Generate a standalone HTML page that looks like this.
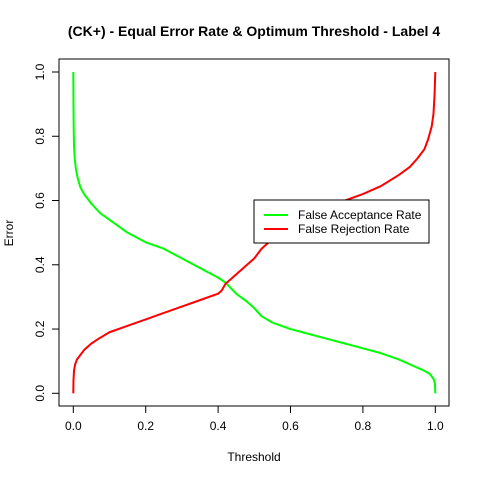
<!DOCTYPE html><html><head><meta charset="utf-8"><style>body{margin:0;background:#fff}svg{font-family:"Liberation Sans",sans-serif}</style></head><body>
<svg id="c" width="480" height="480">
<text x="254" y="36" font-size="14" font-weight="bold" text-anchor="middle">(CK+) - Equal Error Rate &amp; Optimum Threshold - Label 4</text>
<rect x="59" y="59" width="390" height="347" fill="none" stroke="#000"/>
<text x="254" y="461" font-size="12" text-anchor="middle">Threshold</text>
<text transform="translate(13,233) rotate(-90)" font-size="12" text-anchor="middle">Error</text>
<g id="ax"></g><g id="lines"></g>
<g>
<rect x="254" y="200" width="175" height="43" fill="#fff" stroke="#000"/>
<line x1="264" y1="215" x2="288" y2="215" stroke="#00ff00" stroke-width="2"/>
<text x="298" y="219" font-size="12">False Acceptance Rate</text>
<line x1="264" y1="229" x2="288" y2="229" stroke="#ff0000" stroke-width="2"/>
<text x="298" y="233" font-size="12">False Rejection Rate</text>
</g>
</svg>
<script>
const xTicks=[0,0.2,0.4,0.6,0.8,1.0];
const xTickLabels=["0.0","0.2","0.4","0.6","0.8","1.0"];
const yTicks=[0,0.2,0.4,0.6,0.8,1.0];
const yTickLabels=["0.0","0.2","0.4","0.6","0.8","1.0"];
const farX=[0,0.0005,0.001,0.002,0.004,0.007,0.012,0.02,0.03,0.05,0.075,0.1,0.15,0.2,0.25,0.3,0.35,0.4,0.42,0.45,0.48,0.5,0.52,0.55,0.6,0.65,0.7,0.75,0.8,0.85,0.9,0.94,0.97,0.985,0.995,0.999,1.0];
const farY=[1,0.9,0.83,0.77,0.73,0.7,0.67,0.64,0.62,0.59,0.56,0.54,0.5,0.47,0.45,0.42,0.39,0.36,0.345,0.31,0.285,0.265,0.24,0.22,0.2,0.185,0.17,0.155,0.14,0.125,0.105,0.085,0.07,0.06,0.045,0.03,0];
const frrX=[0,0.0005,0.002,0.005,0.01,0.02,0.03,0.05,0.07,0.1,0.15,0.2,0.25,0.3,0.35,0.4,0.41,0.42,0.45,0.5,0.52,0.55,0.6,0.65,0.7,0.75,0.8,0.85,0.9,0.93,0.95,0.97,0.98,0.99,0.995,0.998,1.0];
const frrY=[0,0.04,0.07,0.09,0.105,0.12,0.135,0.155,0.17,0.19,0.21,0.23,0.25,0.27,0.29,0.31,0.32,0.34,0.37,0.42,0.45,0.48,0.53,0.56,0.58,0.6,0.62,0.645,0.68,0.705,0.73,0.76,0.79,0.83,0.87,0.93,1.0];
const sx=v=>73.3+v*362, sy=v=>393.3-v*321.3;
const NS="http://www.w3.org/2000/svg";
const ax=document.getElementById('ax'), ln=document.getElementById('lines');
function mk(t,a,p){const e=document.createElementNS(NS,t);for(const k in a)e.setAttribute(k,a[k]);p.appendChild(e);return e;}
xTicks.forEach((v,i)=>{
 const l=mk('line',{x1:sx(v),x2:sx(v),y1:406,y2:413,stroke:'#000'},ax);
 
 
 const t=mk('text',{x:sx(v),y:430,'font-size':12,'text-anchor':'middle'},ax);t.textContent=xTickLabels[i];
 
 
});
mk('line',{x1:sx(0),x2:sx(1),y1:406,y2:406,stroke:'#000'},ax);
yTicks.forEach((v,i)=>{
 const l=mk('line',{x1:52,x2:59,y1:sy(v),y2:sy(v),stroke:'#000'},ax);
 
 
 const t=mk('text',{x:0,y:0,'font-size':12,'text-anchor':'middle',transform:`translate(44,${sy(v)}) rotate(-90)`},ax);t.textContent=yTickLabels[i];
 
 
});
mk('line',{x1:59,x2:59,y1:sy(0),y2:sy(1),stroke:'#000'},ax);
function path(xs,ys,c,n){const p=mk('polyline',{points:xs.map((x,i)=>sx(x)+','+sy(ys[i])).join(' '),fill:'none',stroke:c,'stroke-width':2,'stroke-linejoin':'round'},ln);
 
 }
path(farX,farY,'#00ff00','far-line');
path(frrX,frrY,'#ff0000','frr-line');
</script></body></html>
